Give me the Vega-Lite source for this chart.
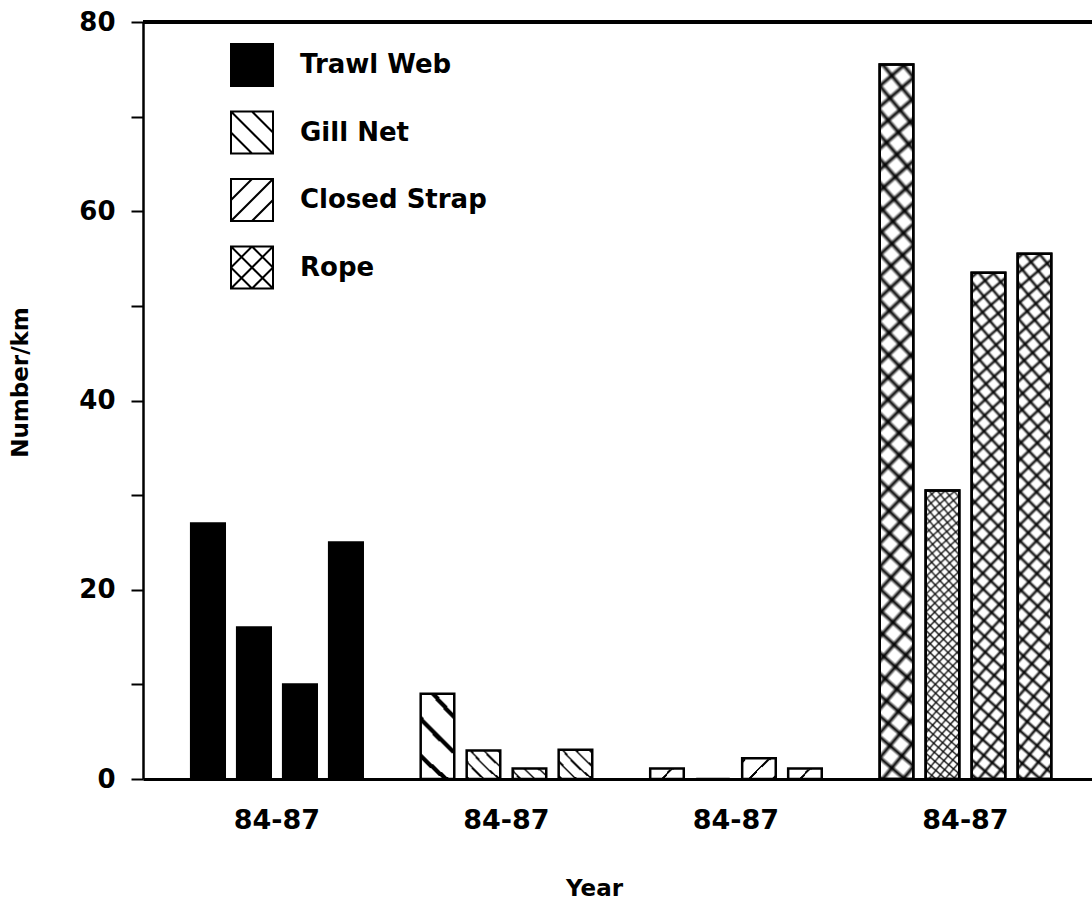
{
  "$schema": "https://vega.github.io/schema/vega-lite/v6.json",
  "width": 949,
  "height": 757,
  "autosize": {"type": "none"},
  "padding": {"left": 143, "top": 22, "right": 0, "bottom": 120},
  "background": "white",
  "config": {
    "font": "DejaVu Sans",
    "view": {"stroke": null},
    "axis": {"labelColor": "black", "titleColor": "black", "domainColor": "black", "tickColor": "black", "grid": false}
  },
  "data": {
    "values": [
      {"type": "Trawl Web", "year": "84", "value": 27},
      {"type": "Trawl Web", "year": "85", "value": 16},
      {"type": "Trawl Web", "year": "86", "value": 10},
      {"type": "Trawl Web", "year": "87", "value": 25},
      {"type": "Gill Net", "year": "84", "value": 9},
      {"type": "Gill Net", "year": "85", "value": 3},
      {"type": "Gill Net", "year": "86", "value": 1.1},
      {"type": "Gill Net", "year": "87", "value": 3.1},
      {"type": "Closed Strap", "year": "84", "value": 1.1},
      {"type": "Closed Strap", "year": "85", "value": 0},
      {"type": "Closed Strap", "year": "86", "value": 2.2},
      {"type": "Closed Strap", "year": "87", "value": 1.1},
      {"type": "Rope", "year": "84", "value": 75.5},
      {"type": "Rope", "year": "85", "value": 30.5},
      {"type": "Rope", "year": "86", "value": 53.5},
      {"type": "Rope", "year": "87", "value": 55.5}
    ]
  },
  "layer": [
    {
      "mark": {"type": "bar", "stroke": "black", "strokeWidth": 2.5},
      "encoding": {
        "x": {
          "field": "type", "type": "nominal",
          "sort": ["Trawl Web", "Gill Net", "Closed Strap", "Rope"],
          "scale": {"paddingInner": 0, "paddingOuter": 0.0675, "align": 0.62},
          "axis": {
            "labelExpr": "'84-87'", "labelAngle": 0, "ticks": false, "tickSize": 0,
            "domainWidth": 3, "labelFontSize": 27, "labelFontWeight": "bold",
            "labelPadding": 49, "labelBaseline": "alphabetic",
            "title": "Year", "titleFontSize": 23, "titleFontWeight": "bold",
            "titleX": 451, "titleY": 116, "titleBaseline": "alphabetic", "titleAlign": "center"
          }
        },
        "xOffset": {"field": "year", "type": "nominal", "scale": {"paddingInner": 0.27, "paddingOuter": 0.63}},
        "y": {
          "field": "value", "type": "quantitative",
          "scale": {"domain": [0, 80], "nice": false},
          "axis": {
            "values": [0, 10, 20, 30, 40, 50, 60, 70, 80],
            "labelExpr": "datum.value % 20 === 0 ? datum.label : ''",
            "tickSize": 12, "tickWidth": 2, "domainWidth": 2.5,
            "labelFontSize": 26, "labelFontWeight": "bold", "labelPadding": 16,
            "title": "Number/km", "titleFontSize": 23, "titleFontWeight": "bold",
            "titleAngle": 270, "titleX": -115.5, "titleY": 360, "titleBaseline": "alphabetic", "titleAlign": "center"
          }
        },
        "fill": {
          "condition": [
            {"test": "datum.type === 'Trawl Web'", "value": "black"},
            {"test": "datum.type === 'Gill Net'", "value": {
              "gradient": "radial", "x1": 3.5052, "y1": -2.5052, "r1": 0, "x2": 3.5052, "y2": -2.5052, "r2": 5,
              "stops": [
                {"offset": 0, "color": "#fff"},
                {"offset": 0.725, "color": "#fff"}, {"offset": 0.725, "color": "#000"}, {"offset": 0.735, "color": "#000"}, {"offset": 0.735, "color": "#fff"},
                {"offset": 0.785, "color": "#fff"}, {"offset": 0.785, "color": "#000"}, {"offset": 0.795, "color": "#000"}, {"offset": 0.795, "color": "#fff"},
                {"offset": 0.845, "color": "#fff"}, {"offset": 0.845, "color": "#000"}, {"offset": 0.855, "color": "#000"}, {"offset": 0.855, "color": "#fff"},
                {"offset": 0.905, "color": "#fff"}, {"offset": 0.905, "color": "#000"}, {"offset": 0.915, "color": "#000"}, {"offset": 0.915, "color": "#fff"},
                {"offset": 0.965, "color": "#fff"}, {"offset": 0.965, "color": "#000"}, {"offset": 0.975, "color": "#000"}, {"offset": 0.975, "color": "#fff"},
                {"offset": 1, "color": "#fff"}
              ]
            }},
            {"test": "datum.type === 'Closed Strap'", "value": {
              "gradient": "radial", "x1": 3.5052, "y1": 3.5052, "r1": 0, "x2": 3.5052, "y2": 3.5052, "r2": 5,
              "stops": [
                {"offset": 0, "color": "#fff"},
                {"offset": 0.744, "color": "#fff"}, {"offset": 0.744, "color": "#000"}, {"offset": 0.756, "color": "#000"}, {"offset": 0.756, "color": "#fff"},
                {"offset": 0.844, "color": "#fff"}, {"offset": 0.844, "color": "#000"}, {"offset": 0.856, "color": "#000"}, {"offset": 0.856, "color": "#fff"},
                {"offset": 0.944, "color": "#fff"}, {"offset": 0.944, "color": "#000"}, {"offset": 0.956, "color": "#000"}, {"offset": 0.956, "color": "#fff"},
                {"offset": 1, "color": "#fff"}
              ]
            }}
          ],
          "value": {
            "gradient": "radial", "x1": 3.3284, "y1": 3.3284, "r1": 0, "x2": 3.3284, "y2": 3.3284, "r2": 4.4,
            "stops": [
              {"offset": 0.820, "color": "#fff"}, {"offset": 0.821, "color": "#000"}, {"offset": 0.822, "color": "#fff"},
              {"offset": 0.825, "color": "#fff"}, {"offset": 0.826, "color": "#000"}, {"offset": 0.827, "color": "#fff"},
              {"offset": 0.830, "color": "#fff"}, {"offset": 0.831, "color": "#000"}, {"offset": 0.832, "color": "#fff"},
              {"offset": 0.835, "color": "#fff"}, {"offset": 0.836, "color": "#000"}, {"offset": 0.837, "color": "#fff"},
              {"offset": 0.840, "color": "#fff"}, {"offset": 0.841, "color": "#000"}, {"offset": 0.842, "color": "#fff"},
              {"offset": 0.845, "color": "#fff"}, {"offset": 0.846, "color": "#000"}, {"offset": 0.847, "color": "#fff"},
              {"offset": 0.850, "color": "#fff"}, {"offset": 0.851, "color": "#000"}, {"offset": 0.852, "color": "#fff"},
              {"offset": 0.855, "color": "#fff"}, {"offset": 0.856, "color": "#000"}, {"offset": 0.857, "color": "#fff"},
              {"offset": 0.860, "color": "#fff"}, {"offset": 0.861, "color": "#000"}, {"offset": 0.862, "color": "#fff"},
              {"offset": 0.865, "color": "#fff"}, {"offset": 0.866, "color": "#000"}, {"offset": 0.867, "color": "#fff"},
              {"offset": 0.870, "color": "#fff"}, {"offset": 0.871, "color": "#000"}, {"offset": 0.872, "color": "#fff"},
              {"offset": 0.875, "color": "#fff"}, {"offset": 0.876, "color": "#000"}, {"offset": 0.877, "color": "#fff"},
              {"offset": 0.880, "color": "#fff"}, {"offset": 0.881, "color": "#000"}, {"offset": 0.882, "color": "#fff"},
              {"offset": 0.885, "color": "#fff"}, {"offset": 0.886, "color": "#000"}, {"offset": 0.887, "color": "#fff"},
              {"offset": 0.890, "color": "#fff"}, {"offset": 0.891, "color": "#000"}, {"offset": 0.892, "color": "#fff"},
              {"offset": 0.895, "color": "#fff"}, {"offset": 0.896, "color": "#000"}, {"offset": 0.897, "color": "#fff"},
              {"offset": 0.900, "color": "#fff"}, {"offset": 0.901, "color": "#000"}, {"offset": 0.902, "color": "#fff"},
              {"offset": 0.905, "color": "#fff"}, {"offset": 0.906, "color": "#000"}, {"offset": 0.907, "color": "#fff"},
              {"offset": 0.910, "color": "#fff"}, {"offset": 0.911, "color": "#000"}, {"offset": 0.912, "color": "#fff"},
              {"offset": 0.915, "color": "#fff"}, {"offset": 0.916, "color": "#000"}, {"offset": 0.917, "color": "#fff"},
              {"offset": 0.920, "color": "#fff"}, {"offset": 0.921, "color": "#000"}, {"offset": 0.922, "color": "#fff"},
              {"offset": 0.925, "color": "#fff"}, {"offset": 0.926, "color": "#000"}, {"offset": 0.927, "color": "#fff"},
              {"offset": 0.930, "color": "#fff"}, {"offset": 0.931, "color": "#000"}, {"offset": 0.932, "color": "#fff"},
              {"offset": 0.935, "color": "#fff"}, {"offset": 0.936, "color": "#000"}, {"offset": 0.937, "color": "#fff"},
              {"offset": 0.940, "color": "#fff"}, {"offset": 0.941, "color": "#000"}, {"offset": 0.942, "color": "#fff"},
              {"offset": 0.945, "color": "#fff"}, {"offset": 0.946, "color": "#000"}, {"offset": 0.947, "color": "#fff"},
              {"offset": 0.950, "color": "#fff"}, {"offset": 0.951, "color": "#000"}, {"offset": 0.952, "color": "#fff"},
              {"offset": 0.955, "color": "#fff"}, {"offset": 0.956, "color": "#000"}, {"offset": 0.957, "color": "#fff"},
              {"offset": 0.960, "color": "#fff"}, {"offset": 0.961, "color": "#000"}, {"offset": 0.962, "color": "#fff"},
              {"offset": 0.965, "color": "#fff"}, {"offset": 0.966, "color": "#000"}, {"offset": 0.967, "color": "#fff"},
              {"offset": 0.970, "color": "#fff"}, {"offset": 0.971, "color": "#000"}, {"offset": 0.972, "color": "#fff"},
              {"offset": 0.975, "color": "#fff"}, {"offset": 0.976, "color": "#000"}, {"offset": 0.977, "color": "#fff"},
              {"offset": 0.980, "color": "#fff"}, {"offset": 0.981, "color": "#000"}, {"offset": 0.982, "color": "#fff"},
              {"offset": 0.985, "color": "#fff"}, {"offset": 0.986, "color": "#000"}, {"offset": 0.987, "color": "#fff"},
              {"offset": 0.990, "color": "#fff"}, {"offset": 0.991, "color": "#000"}, {"offset": 0.992, "color": "#fff"},
              {"offset": 0.995, "color": "#fff"}, {"offset": 0.996, "color": "#000"}, {"offset": 0.997, "color": "#fff"}
            ]
          }
        }
      }
    },
    {
      "transform": [{"filter": "datum.type === 'Rope'"}],
      "mark": {"type": "bar", "stroke": "black", "strokeWidth": 2.5,
        "fill": {
          "gradient": "radial", "x1": 3.3284, "y1": -2.3284, "r1": 0, "x2": 3.3284, "y2": -2.3284, "r2": 4.4,
          "stops": [
            {"offset": 0.820, "color": "rgba(0,0,0,0)"}, {"offset": 0.821, "color": "#000"}, {"offset": 0.822, "color": "rgba(0,0,0,0)"},
            {"offset": 0.825, "color": "rgba(0,0,0,0)"}, {"offset": 0.826, "color": "#000"}, {"offset": 0.827, "color": "rgba(0,0,0,0)"},
            {"offset": 0.830, "color": "rgba(0,0,0,0)"}, {"offset": 0.831, "color": "#000"}, {"offset": 0.832, "color": "rgba(0,0,0,0)"},
            {"offset": 0.835, "color": "rgba(0,0,0,0)"}, {"offset": 0.836, "color": "#000"}, {"offset": 0.837, "color": "rgba(0,0,0,0)"},
            {"offset": 0.840, "color": "rgba(0,0,0,0)"}, {"offset": 0.841, "color": "#000"}, {"offset": 0.842, "color": "rgba(0,0,0,0)"},
            {"offset": 0.845, "color": "rgba(0,0,0,0)"}, {"offset": 0.846, "color": "#000"}, {"offset": 0.847, "color": "rgba(0,0,0,0)"},
            {"offset": 0.850, "color": "rgba(0,0,0,0)"}, {"offset": 0.851, "color": "#000"}, {"offset": 0.852, "color": "rgba(0,0,0,0)"},
            {"offset": 0.855, "color": "rgba(0,0,0,0)"}, {"offset": 0.856, "color": "#000"}, {"offset": 0.857, "color": "rgba(0,0,0,0)"},
            {"offset": 0.860, "color": "rgba(0,0,0,0)"}, {"offset": 0.861, "color": "#000"}, {"offset": 0.862, "color": "rgba(0,0,0,0)"},
            {"offset": 0.865, "color": "rgba(0,0,0,0)"}, {"offset": 0.866, "color": "#000"}, {"offset": 0.867, "color": "rgba(0,0,0,0)"},
            {"offset": 0.870, "color": "rgba(0,0,0,0)"}, {"offset": 0.871, "color": "#000"}, {"offset": 0.872, "color": "rgba(0,0,0,0)"},
            {"offset": 0.875, "color": "rgba(0,0,0,0)"}, {"offset": 0.876, "color": "#000"}, {"offset": 0.877, "color": "rgba(0,0,0,0)"},
            {"offset": 0.880, "color": "rgba(0,0,0,0)"}, {"offset": 0.881, "color": "#000"}, {"offset": 0.882, "color": "rgba(0,0,0,0)"},
            {"offset": 0.885, "color": "rgba(0,0,0,0)"}, {"offset": 0.886, "color": "#000"}, {"offset": 0.887, "color": "rgba(0,0,0,0)"},
            {"offset": 0.890, "color": "rgba(0,0,0,0)"}, {"offset": 0.891, "color": "#000"}, {"offset": 0.892, "color": "rgba(0,0,0,0)"},
            {"offset": 0.895, "color": "rgba(0,0,0,0)"}, {"offset": 0.896, "color": "#000"}, {"offset": 0.897, "color": "rgba(0,0,0,0)"},
            {"offset": 0.900, "color": "rgba(0,0,0,0)"}, {"offset": 0.901, "color": "#000"}, {"offset": 0.902, "color": "rgba(0,0,0,0)"},
            {"offset": 0.905, "color": "rgba(0,0,0,0)"}, {"offset": 0.906, "color": "#000"}, {"offset": 0.907, "color": "rgba(0,0,0,0)"},
            {"offset": 0.910, "color": "rgba(0,0,0,0)"}, {"offset": 0.911, "color": "#000"}, {"offset": 0.912, "color": "rgba(0,0,0,0)"},
            {"offset": 0.915, "color": "rgba(0,0,0,0)"}, {"offset": 0.916, "color": "#000"}, {"offset": 0.917, "color": "rgba(0,0,0,0)"},
            {"offset": 0.920, "color": "rgba(0,0,0,0)"}, {"offset": 0.921, "color": "#000"}, {"offset": 0.922, "color": "rgba(0,0,0,0)"},
            {"offset": 0.925, "color": "rgba(0,0,0,0)"}, {"offset": 0.926, "color": "#000"}, {"offset": 0.927, "color": "rgba(0,0,0,0)"},
            {"offset": 0.930, "color": "rgba(0,0,0,0)"}, {"offset": 0.931, "color": "#000"}, {"offset": 0.932, "color": "rgba(0,0,0,0)"},
            {"offset": 0.935, "color": "rgba(0,0,0,0)"}, {"offset": 0.936, "color": "#000"}, {"offset": 0.937, "color": "rgba(0,0,0,0)"},
            {"offset": 0.940, "color": "rgba(0,0,0,0)"}, {"offset": 0.941, "color": "#000"}, {"offset": 0.942, "color": "rgba(0,0,0,0)"},
            {"offset": 0.945, "color": "rgba(0,0,0,0)"}, {"offset": 0.946, "color": "#000"}, {"offset": 0.947, "color": "rgba(0,0,0,0)"},
            {"offset": 0.950, "color": "rgba(0,0,0,0)"}, {"offset": 0.951, "color": "#000"}, {"offset": 0.952, "color": "rgba(0,0,0,0)"},
            {"offset": 0.955, "color": "rgba(0,0,0,0)"}, {"offset": 0.956, "color": "#000"}, {"offset": 0.957, "color": "rgba(0,0,0,0)"},
            {"offset": 0.960, "color": "rgba(0,0,0,0)"}, {"offset": 0.961, "color": "#000"}, {"offset": 0.962, "color": "rgba(0,0,0,0)"},
            {"offset": 0.965, "color": "rgba(0,0,0,0)"}, {"offset": 0.966, "color": "#000"}, {"offset": 0.967, "color": "rgba(0,0,0,0)"},
            {"offset": 0.970, "color": "rgba(0,0,0,0)"}, {"offset": 0.971, "color": "#000"}, {"offset": 0.972, "color": "rgba(0,0,0,0)"},
            {"offset": 0.975, "color": "rgba(0,0,0,0)"}, {"offset": 0.976, "color": "#000"}, {"offset": 0.977, "color": "rgba(0,0,0,0)"},
            {"offset": 0.980, "color": "rgba(0,0,0,0)"}, {"offset": 0.981, "color": "#000"}, {"offset": 0.982, "color": "rgba(0,0,0,0)"},
            {"offset": 0.985, "color": "rgba(0,0,0,0)"}, {"offset": 0.986, "color": "#000"}, {"offset": 0.987, "color": "rgba(0,0,0,0)"},
            {"offset": 0.990, "color": "rgba(0,0,0,0)"}, {"offset": 0.991, "color": "#000"}, {"offset": 0.992, "color": "rgba(0,0,0,0)"},
            {"offset": 0.995, "color": "rgba(0,0,0,0)"}, {"offset": 0.996, "color": "#000"}, {"offset": 0.997, "color": "rgba(0,0,0,0)"}
          ]
        }
      },
      "encoding": {
        "x": {"field": "type", "type": "nominal", "sort": ["Trawl Web", "Gill Net", "Closed Strap", "Rope"]},
        "xOffset": {"field": "year", "type": "nominal"},
        "y": {"field": "value", "type": "quantitative"}
      }
    },
    {
      "mark": {"type": "point", "filled": true, "opacity": 0},
      "encoding": {
        "x": {"field": "type", "type": "nominal", "sort": ["Trawl Web", "Gill Net", "Closed Strap", "Rope"]},
        "xOffset": {"field": "year", "type": "nominal"},
        "y": {"field": "value", "type": "quantitative"},
        "fill": {
          "field": "type", "type": "nominal",
          "scale": {"domain": ["Trawl Web", "Gill Net", "Closed Strap", "Rope"], "range": ["black", "white", "white", "white"]},
          "legend": {
            "orient": "none", "legendX": 87, "legendY": 21, "padding": 0, "title": null,
            "symbolSize": 1764, "symbolStrokeWidth": 2, "symbolStrokeColor": "black",
            "labelFontSize": 26, "labelFontWeight": "bold", "labelColor": "black", "labelOffset": 26,
            "rowPadding": 17.5, "labelLimit": 0,
            "encode": {"symbols": {"update": {"opacity": {"value": 1}, "stroke": {"value": "black"}, "strokeWidth": {"value": 2}}}}
          }
        },
        "shape": {
          "field": "type", "type": "nominal",
          "scale": {
            "domain": ["Trawl Web", "Gill Net", "Closed Strap", "Rope"],
            "range": [
              "M-1,-1H1V1H-1Z",
              "M-1,-1H1V1H-1Z M-1,-1L1,1 M0,-1L1,0 M-1,0L0,1",
              "M-1,-1H1V1H-1Z M-1,1L1,-1 M-1,0L0,-1 M0,1L1,0",
              "M-1,-1H1V1H-1Z M-1,-1L1,1 M0,-1L1,0 M-1,0L0,1 M-1,1L1,-1 M-1,0L0,-1 M0,1L1,0"
            ]
          },
          "legend": {
            "orient": "none", "legendX": 87, "legendY": 21, "padding": 0, "title": null,
            "symbolSize": 1764, "symbolStrokeWidth": 2, "symbolStrokeColor": "black",
            "labelFontSize": 26, "labelFontWeight": "bold", "labelColor": "black", "labelOffset": 26,
            "rowPadding": 17.5, "labelLimit": 0,
            "encode": {"symbols": {"update": {"opacity": {"value": 1}, "stroke": {"value": "black"}, "strokeWidth": {"value": 2}}}}
          }
        }
      }
    },
    {
      "mark": {"type": "rule", "strokeWidth": 3, "color": "black"},
      "encoding": {"y": {"datum": 80}}
    }
  ]
}
